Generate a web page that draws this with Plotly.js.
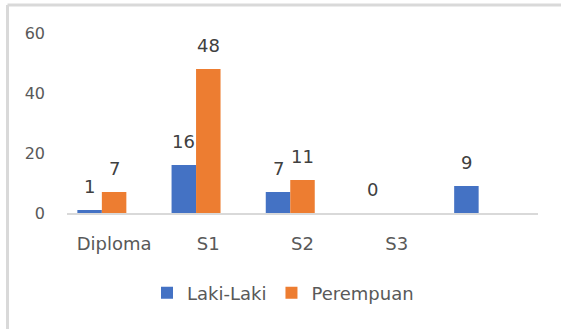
<!DOCTYPE html>
<html>
<head>
<meta charset="utf-8">
<script src="https://cdn.plot.ly/plotly-3.0.1.min.js"></script>
<style>html,body{margin:0;padding:0;background:#fff;}#chart{width:561px;height:329px;}</style>
</head>
<body>
<div id="chart"></div>
<script>
const categories = ['Diploma', 'S1', 'S2', 'S3', ''];
const lakiLaki = [1, 16, 7, 0, 9];
const perempuan = [7, 48, 11, null, null];
const seriesNames = ['Laki-Laki', 'Perempuan'];
const yTicks = [0, 20, 40, 60];

const colors = ['#4472C4', '#ED7D31'];
const barW = 0.26;
const offsets = [-0.39, -0.13];
const xIdx = categories.map((c, i) => i);
const series = [lakiLaki, perempuan];

const traces = series.map((vals, s) => ({
  type: 'bar', x: xIdx, y: vals, name: seriesNames[s],
  width: barW, offset: offsets[s],
  marker: {color: colors[s]}, hoverinfo: 'skip'
}));

const annotations = [];
series.forEach((vals, s) => {
  vals.forEach((v, i) => {
    if (v === null) return;
    annotations.push({
      x: i + offsets[s] + barW / 2, y: v, xref: 'x', yref: 'y',
      text: String(v), showarrow: false, yshift: 24, yanchor: 'middle',
      font: {family: 'DejaVu Sans', size: 18, color: '#404040'}
    });
  });
});

const L = 67, R = 538, T = 33, B = 213, W = 561, H = 329;
const px = v => (v - L) / (R - L);
const py = v => (B - v) / (B - T);
const shapes = [
  {type: 'line', xref: 'paper', yref: 'paper', x0: px(7.5), x1: px(7.5), y0: py(H + 2), y1: py(5),
   line: {color: '#D9D9D9', width: 3}},
  {type: 'line', xref: 'paper', yref: 'paper', x0: px(7.5), x1: px(W + 2), y0: py(5), y1: py(5),
   line: {color: '#D9D9D9', width: 3}}
];

const layout = {
  width: W, height: H,
  margin: {l: L, r: W - R, t: T, b: H - B, pad: 0},
  paper_bgcolor: '#fff', plot_bgcolor: '#fff',
  showlegend: true,
  legend: {orientation: 'h', x: px(283), xanchor: 'center', y: py(293), yanchor: 'middle',
    font: {family: 'DejaVu Sans', size: 18, color: '#595959'}, itemwidth: 30},
  xaxis: {range: [-0.5, 4.5], tickvals: xIdx.slice(0, 4), ticktext: categories.slice(0, 4),
    showline: true, linecolor: '#D9D9D9', linewidth: 2, showgrid: false, zeroline: false,
    ticks: '', ticklabelstandoff: 13, fixedrange: true,
    tickfont: {family: 'DejaVu Sans', size: 18, color: '#595959'}},
  yaxis: {range: [0, 60], tickvals: yTicks, showgrid: false, zeroline: false, showline: false,
    ticks: '', ticklabelstandoff: 21, fixedrange: true,
    tickfont: {family: 'DejaVu Sans', size: 16, color: '#595959'}},
  annotations: annotations,
  shapes: shapes
};

Plotly.newPlot('chart', traces, layout, {displayModeBar: false, staticPlot: true});
</script>
</body>
</html>
